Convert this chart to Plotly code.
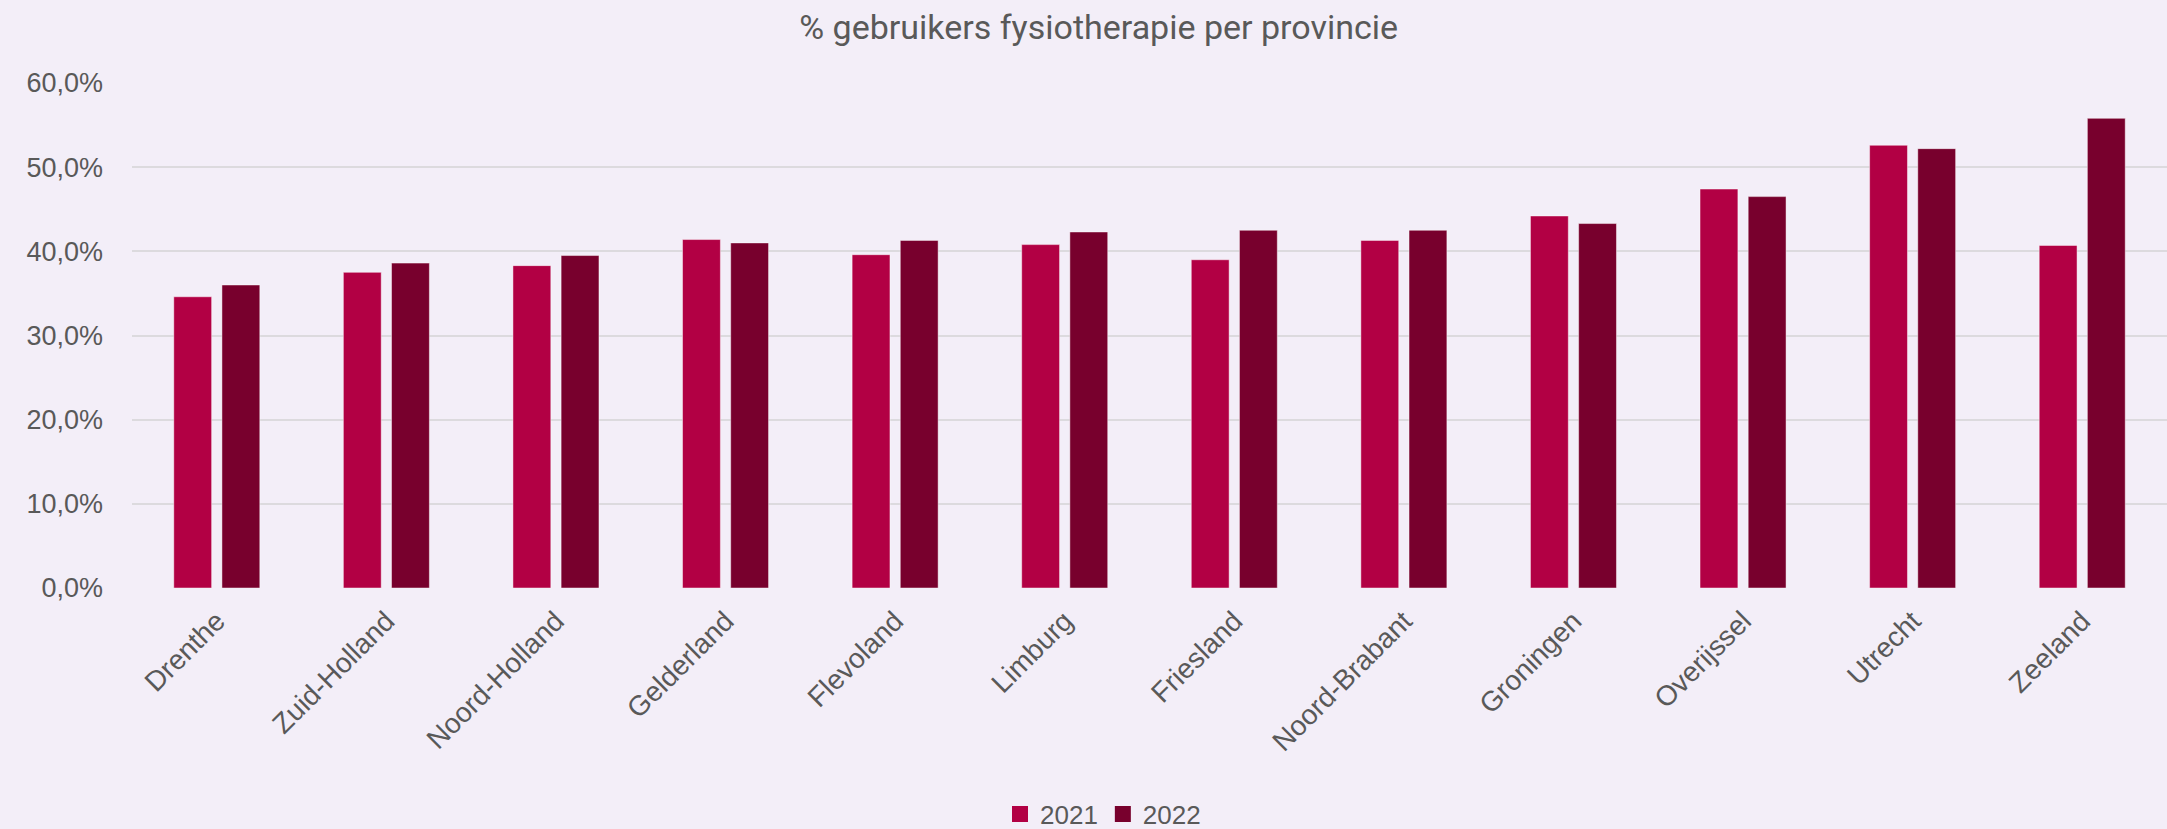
import plotly.graph_objects as go

provinces = ["Drenthe", "Zuid-Holland", "Noord-Holland", "Gelderland", "Flevoland", "Limburg",
             "Friesland", "Noord-Brabant", "Groningen", "Overijssel", "Utrecht", "Zeeland"]
values_2021 = [34.6, 37.5, 38.3, 41.4, 39.6, 40.8, 39.0, 41.3, 44.2, 47.4, 52.6, 40.7]
values_2022 = [36.0, 38.6, 39.5, 41.0, 41.3, 42.3, 42.5, 42.5, 43.3, 46.5, 52.2, 55.8]
series_names = ["2021", "2022"]
tick_values = [0, 10, 20, 30, 40, 50, 60]
tick_labels = ["0,0%", "10,0%", "20,0%", "30,0%", "40,0%", "50,0%", "60,0%"]

color_2021 = "#B20044"
color_2022 = "#78002D"
text_color = "#595959"
bg = "#F3EEF8"

fig = go.Figure()
for name, vals, col in [(series_names[0], values_2021, color_2021), (series_names[1], values_2022, color_2022)]:
    fig.add_trace(go.Bar(
        x=provinces, y=vals, name=name, legendgroup=name, showlegend=False,
        marker=dict(color=col, line=dict(color="rgba(255,255,255,0.45)", width=1)),
    ))
# legend entries with larger square swatches
for name, col in [(series_names[0], color_2021), (series_names[1], color_2022)]:
    fig.add_trace(go.Scatter(
        x=[None], y=[None], mode="markers", name=name, legendgroup=name,
        marker=dict(symbol="square", size=18, color=col), hoverinfo="skip",
    ))

fig.update_layout(
    width=2167, height=829,
    paper_bgcolor=bg, plot_bgcolor=bg,
    barmode="group", bargap=0.432, bargroupgap=0.214,
    margin=dict(l=132, r=0, t=83, b=241, pad=0),
    font=dict(family="Liberation Sans", size=27, color=text_color),
    title=dict(text="% gebruikers fysiotherapie per provincie", x=0.507, xanchor="center",
               xref="container", y=1 - 27 / 829, yanchor="middle", yref="container",
               font=dict(family="Roboto", size=34, color=text_color)),
    legend=dict(orientation="h", x=0.509, xanchor="center", xref="container",
                y=15 / 829, yanchor="middle", yref="container",
                font=dict(size=26, color=text_color), itemwidth=30,
                traceorder="normal", bgcolor="rgba(0,0,0,0)"),
    showlegend=True,
)
fig.update_yaxes(range=[0, 60], tickvals=tick_values, ticktext=tick_labels,
                 showgrid=True, gridcolor="#DCDADE", gridwidth=2, zeroline=False,
                 showline=False, ticklabelstandoff=28, tickfont=dict(size=27, color=text_color))
fig.update_xaxes(tickangle=-45, showgrid=False, showline=False, ticks="",
                 tickfont=dict(size=28, color=text_color), ticklabelstandoff=10)

fig.write_html("out.html", config={"displayModeBar": False},
               post_script="document.body.style.margin='0px';")
